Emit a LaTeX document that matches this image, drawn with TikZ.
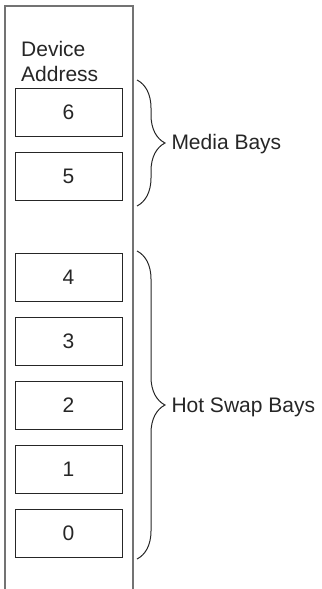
\documentclass[tikz,border=0pt]{standalone}
\usepackage{fontspec}
\setmainfont{Liberation Sans}
\usetikzlibrary{positioning,decorations.pathreplacing}

\tikzset{
  bay/.style={draw=black!85, line width=0.9bp, minimum width=107bp, minimum height=48bp, inner sep=0pt, outer sep=0pt, text=black!85, font=\fontsize{21bp}{25bp}\selectfont},
  bracket/.style={decorate, decoration={brace, amplitude=28bp}, draw=black!85, line width=1bp},
  baylabel/.style={anchor=west, inner sep=0pt, text=black!85, font=\fontsize{21bp}{25bp}\selectfont}
}

\begin{document}
\begin{tikzpicture}[x=1bp,y=-1bp]
\useasboundingbox (0,0) rectangle (321,589);
\draw[black!55, line width=1.4bp] (5,589)--(5,6)--(133,6)--(133,589);
\node[anchor=north west, align=left, inner sep=0pt, text=black!85, font=\fontsize{21bp}{25bp}\selectfont] (title) at (21,41) {Device\\Address};
\node[bay] (b6) at (68.5,112) {6};
\node[bay, below=16bp of b6] (b5) {5};
\node[bay, below=53bp of b5] (b4) {4};
\foreach \n/\p in {3/4,2/3,1/2,0/1}
\node[bay, below=16bp of b\p] (b\n) {\n};
% braces
\coordinate (media top) at (137,80);
\coordinate (media bot) at (137,206);
\coordinate (hot top) at (137,251);
\coordinate (hot bot) at (137,559);
\draw[bracket] (media top) -- (media bot) node[midway, baylabel, xshift=34bp, yshift=-1.5bp] (media) {Media Bays};
\draw[bracket] (hot top) -- (hot bot) node[midway, baylabel, xshift=34bp, yshift=-2bp] (hot) {Hot Swap Bays};
\end{tikzpicture}
\end{document}
